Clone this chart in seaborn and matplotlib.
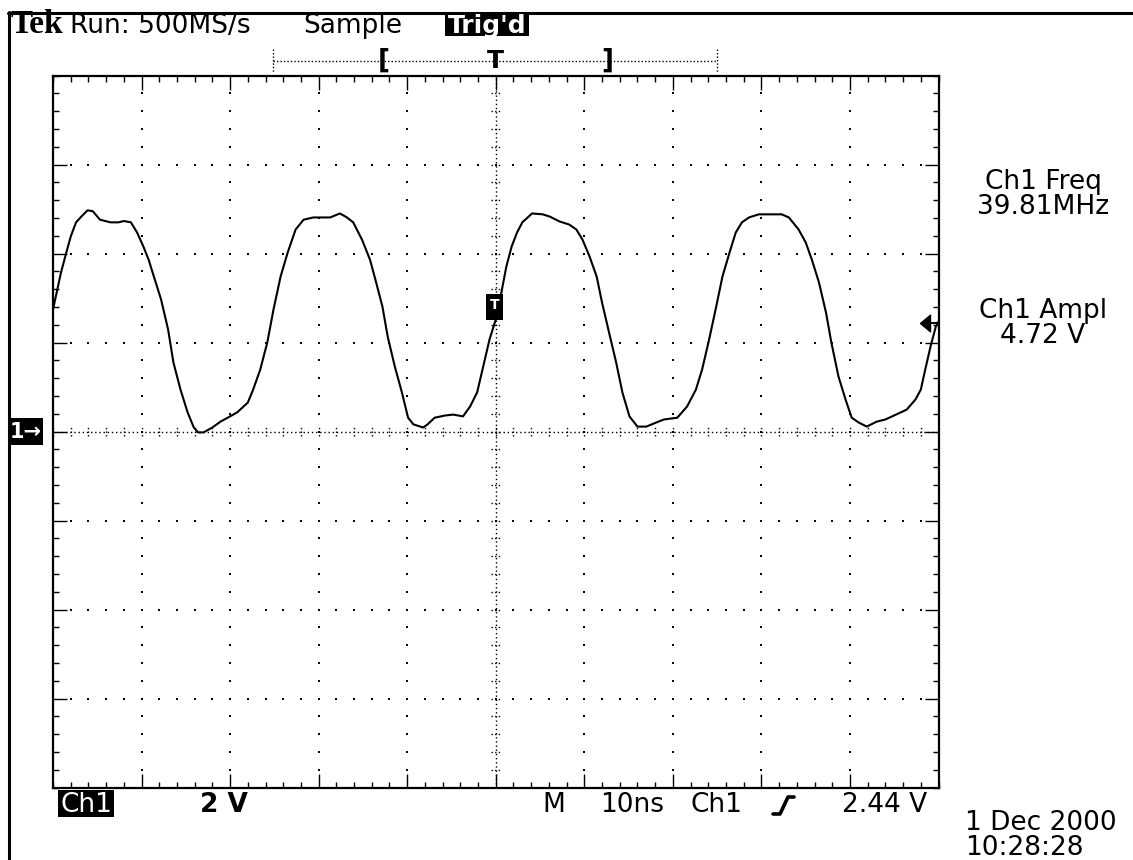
import numpy as np
import pandas as pd
import matplotlib
matplotlib.use("Agg")
import matplotlib.pyplot as plt
import matplotlib.transforms as mtransforms
from matplotlib.lines import Line2D
from matplotlib.patches import Rectangle
import seaborn as sns

# ---- Channel 1 acquisition (time in ns relative to trigger, voltage in V) ----
time_ns = [-50.0, -49.1, -48.5, -48.0, -47.4, -46.8, -46.1, -45.5, -44.7, -43.5,
           -42.6, -42.0, -41.2, -40.5, -39.8, -39.2, -38.4, -37.8, -37.0, -36.4,
           -35.6, -34.8, -34.1, -33.6, -33.0, -32.0, -31.1, -30.0, -29.2, -28.0,
           -27.4, -26.6, -25.8, -25.1, -24.3, -23.5, -22.6, -21.7, -20.6, -18.7,
           -17.6, -16.8, -16.1, -15.1, -14.2, -13.6, -12.8, -12.2, -11.4, -10.6,
           -9.9, -9.3, -8.2, -7.7, -6.9, -5.7, -4.8, -3.7, -2.9, -2.1,
           -1.5, -0.7, 0.1, 0.7, 1.2, 1.8, 2.4, 3.0, 4.1, 5.3,
           6.1, 7.2, 8.3, 9.1, 9.8, 10.6, 11.4, 12.0, 12.8, 13.6,
           14.3, 15.1, 16.0, 17.0, 18.1, 19.0, 20.5, 21.6, 22.6, 23.3,
           24.1, 24.9, 25.6, 26.4, 27.1, 27.8, 28.6, 29.7, 32.3, 33.1,
           34.2, 35.0, 35.7, 36.5, 37.3, 37.9, 38.7, 39.5, 40.2, 41.0,
           41.9, 43.0, 44.0, 45.2, 46.4, 47.4, 48.0, 48.5, 49.1, 49.7, 50.0]
volts = [2.74, 3.57, 4.02, 4.38, 4.70, 4.83, 4.97, 4.95, 4.76, 4.70,
         4.70, 4.73, 4.70, 4.47, 4.16, 3.86, 3.35, 2.97, 2.29, 1.55,
         0.94, 0.43, 0.09, -0.02, -0.02, 0.09, 0.22, 0.34, 0.43, 0.65,
         0.94, 1.39, 2.00, 2.74, 3.48, 4.02, 4.54, 4.76, 4.81, 4.81,
         4.90, 4.81, 4.70, 4.31, 3.86, 3.42, 2.81, 2.13, 1.46, 0.88,
         0.31, 0.16, 0.09, 0.16, 0.31, 0.36, 0.38, 0.34, 0.56, 0.88,
         1.39, 2.07, 2.58, 3.19, 3.71, 4.16, 4.47, 4.70, 4.90, 4.88,
         4.83, 4.72, 4.65, 4.54, 4.31, 3.93, 3.48, 2.90, 2.22, 1.55,
         0.88, 0.34, 0.11, 0.11, 0.20, 0.27, 0.31, 0.56, 0.94, 1.39,
         2.07, 2.81, 3.48, 4.02, 4.47, 4.70, 4.81, 4.88, 4.88, 4.81,
         4.54, 4.25, 3.86, 3.35, 2.67, 2.00, 1.24, 0.72, 0.31, 0.20,
         0.11, 0.22, 0.27, 0.38, 0.49, 0.72, 0.94, 1.39, 1.91, 2.36, 2.47]

# ---- Scope settings ----
time_per_div = 10      # ns / div
volts_per_div = 2      # V / div
h_divs, v_divs = 10, 8
trigger_level = 2.44   # V
header = ["Run: 500MS/s", "Sample", "Trig'd"]
meas_labels = [("Ch1 Freq", "39.81MHz"), ("Ch1 Ampl", "4.72 V")]
footer = ["Ch1", "2 V", "M", "10ns", "Ch1", "2.44 V"]
date_lines = ["1 Dec 2000", "10:28:28"]

W, H = 1133, 860
sns.set_style("white")
plt.rcParams["font.family"] = ["DejaVu Sans"]
plt.rcParams["text.color"] = "black"

fig = plt.figure(figsize=(W / 100, H / 100), dpi=100)
fig.patch.set_facecolor("white")


def fx(px):
    return px / W


def fy(py):
    return 1 - py / H


def fig_box(x0, y0, x1, y1):
    fig.add_artist(Rectangle((fx(x0), fy(y1)), fx(x1) - fx(x0),
                             fy(y0) - fy(y1), transform=fig.transFigure,
                             fc="black", ec="none"))


ax_l, ax_r, ax_t, ax_b = 53, 938.5, 75.5, 787.5
ax = fig.add_axes([fx(ax_l), fy(ax_b), fx(ax_r - ax_l), (ax_b - ax_t) / H])

df = pd.DataFrame({"t": time_ns, "v": volts})
sns.lineplot(data=df, x="t", y="v", ax=ax, color="black", lw=1.5,
             sort=False, zorder=5)

tmax = h_divs / 2 * time_per_div
vmax = v_divs / 2 * volts_per_div
ax.set_xlim(-tmax, tmax)
ax.set_ylim(-vmax, vmax)
ax.set_xlabel("")
ax.set_ylabel("")

# ---- graticule ----
minor_t = np.arange(-tmax, tmax + 1e-6, time_per_div / 5)
minor_v = np.arange(-vmax, vmax + 1e-6, volts_per_div / 5)
major_t = np.arange(-tmax + time_per_div, tmax - 1e-6, time_per_div)
major_v = np.arange(-vmax + volts_per_div, vmax - 1e-6, volts_per_div)

for tg in major_t:
    if abs(tg) < 1e-9:
        continue
    ax.scatter(np.full_like(minor_v, tg), minor_v, s=2.2, c="black",
               marker="s", linewidths=0, zorder=2)
for vg in major_v:
    if abs(vg) < 1e-9:
        continue
    ax.scatter(minor_t, np.full_like(minor_t, vg), s=2.2, c="black",
               marker="s", linewidths=0, zorder=2)

# centre cross: dense dots with minor tick marks
ax.axhline(0, color="black", lw=1.0, ls=(0, (1, 2)), zorder=2)
ax.axvline(0, color="black", lw=1.0, ls=(0, (1, 2)), zorder=2)
vt = 0.11 * volts_per_div / 2
ax.vlines(minor_t, -vt, vt, color="black", lw=1.0, ls=(0, (1, 1.6)), zorder=2)
ht = 0.55 * time_per_div / 10
ax.hlines(minor_v, -ht, ht, color="black", lw=1.0, ls=(0, (1, 1.6)), zorder=2)

# edge ticks
ax.set_xticks(major_t)
ax.set_yticks(major_v)
ax.set_xticks(minor_t, minor=True)
ax.set_yticks(minor_v, minor=True)
ax.tick_params(which="both", direction="in", top=True, right=True,
               bottom=True, left=True, labelbottom=False, labelleft=False,
               color="black", width=1.0)
ax.tick_params(which="major", length=10)
ax.tick_params(which="minor", length=4)
for sp in ax.spines.values():
    sp.set_visible(True)
    sp.set_color("black")
    sp.set_linewidth(1.6)
ax.grid(False)

# trigger position marker
ax.add_patch(Rectangle((-1.05, 2.50), 1.9, 0.58, fc="black", ec="none",
                       zorder=6))
ax.text(-0.1, 2.84, "T", color="white", fontsize=10, fontweight="bold",
        ha="center", va="center", zorder=7)

# trigger level arrow on the right edge
ax.plot([tmax - 1.2, tmax], [trigger_level, trigger_level], color="black",
        lw=1.4, clip_on=False, zorder=6)
arrow_head = [(-0.3, 0.0), (0.3, 0.5), (0.3, -0.5), (-0.3, 0.0)]
ax.plot([tmax - 1.5], [trigger_level], marker=arrow_head, ms=12,
        color="black", mec="black", clip_on=False, zorder=6)

# ground reference marker (box height of 27 px expressed in volts)
blend = mtransforms.blended_transform_factory(fig.transFigure, ax.transData)
gnd_h = 27 / (ax_b - ax_t) * (2 * vmax)
fig.add_artist(Rectangle((fx(9), -gnd_h / 2), fx(34), gnd_h,
                         transform=blend, fc="black", ec="none"))
fig.text(fx(26), 0, "1\u2192", transform=blend, color="white", fontsize=15,
         fontweight="bold", ha="center", va="center")

# ---- outer frame ----
fig.add_artist(Line2D([fx(8), 1], [fy(12.5), fy(12.5)], color="black", lw=2.2))
fig.add_artist(Line2D([fx(8.5), fx(8.5)], [fy(12), 0], color="black", lw=2.2))

# ---- header ----
fs = 19
base_top = fy(33)
fig.text(fx(11), base_top, "Tek", fontsize=24, fontweight="bold",
         family="Liberation Serif", ha="left", va="baseline")
fig.text(fx(70), base_top, header[0], fontsize=fs, ha="left", va="baseline")
fig.text(fx(303), base_top, header[1], fontsize=fs, ha="left", va="baseline")
fig_box(445, 14, 529, 36)
fig.text(fx(487), base_top, header[2], fontsize=18, ha="center",
         va="baseline", color="white", fontweight="bold")

# record-length bar
bar_y = fy(61)
fig.add_artist(Line2D([fx(273), fx(717)], [bar_y, bar_y], color="black",
                      lw=1.0, ls=(0, (1, 1.5))))
for xe in (273, 717):
    fig.add_artist(Line2D([fx(xe), fx(xe)], [fy(49), fy(73)], color="black",
                          lw=1.0, ls=(0, (1, 1.5))))
fig.text(fx(384), bar_y, "[", fontsize=19, fontweight="bold", ha="center",
         va="center")
fig.text(fx(495), bar_y, "T", fontsize=18, fontweight="bold", ha="center",
         va="center")
fig.text(fx(607), bar_y, "]", fontsize=19, fontweight="bold", ha="center",
         va="center")

# ---- measurements ----
mx = fx(1043)
fig.text(mx, fy(214), "\n".join(meas_labels[0]), fontsize=fs, ha="center",
         va="baseline", linespacing=0.96, multialignment="center")
fig.text(mx, fy(343), "\n".join(meas_labels[1]), fontsize=fs, ha="center",
         va="baseline", linespacing=0.96, multialignment="center")

# ---- footer ----
fy_b = fy(812)
fig_box(58, 790, 114, 817)
fig.text(fx(86), fy_b, footer[0], fontsize=fs, ha="center", va="baseline",
         color="white")
fig.text(fx(200), fy_b, footer[1], fontsize=fs, ha="left", va="baseline",
         fontweight="bold")
fig.text(fx(542), fy_b, footer[2], fontsize=fs, ha="left", va="baseline")
fig.text(fx(600), fy_b, footer[3], fontsize=fs, ha="left", va="baseline")
fig.text(fx(690), fy_b, footer[4], fontsize=fs, ha="left", va="baseline")
# rising-edge slope symbol
fig.add_artist(Line2D([fx(773), fx(780), fx(788), fx(794)],
                      [fy(814), fy(814), fy(797), fy(797)],
                      color="black", lw=2.6))
fig.text(fx(842), fy_b, footer[5], fontsize=fs, ha="left", va="baseline")

# acquisition date / time
fig.text(fx(965), fy(855), "\n".join(date_lines), fontsize=fs, ha="left",
         va="baseline", linespacing=0.93)

fig.savefig("out.png", dpi=100, facecolor="white")
